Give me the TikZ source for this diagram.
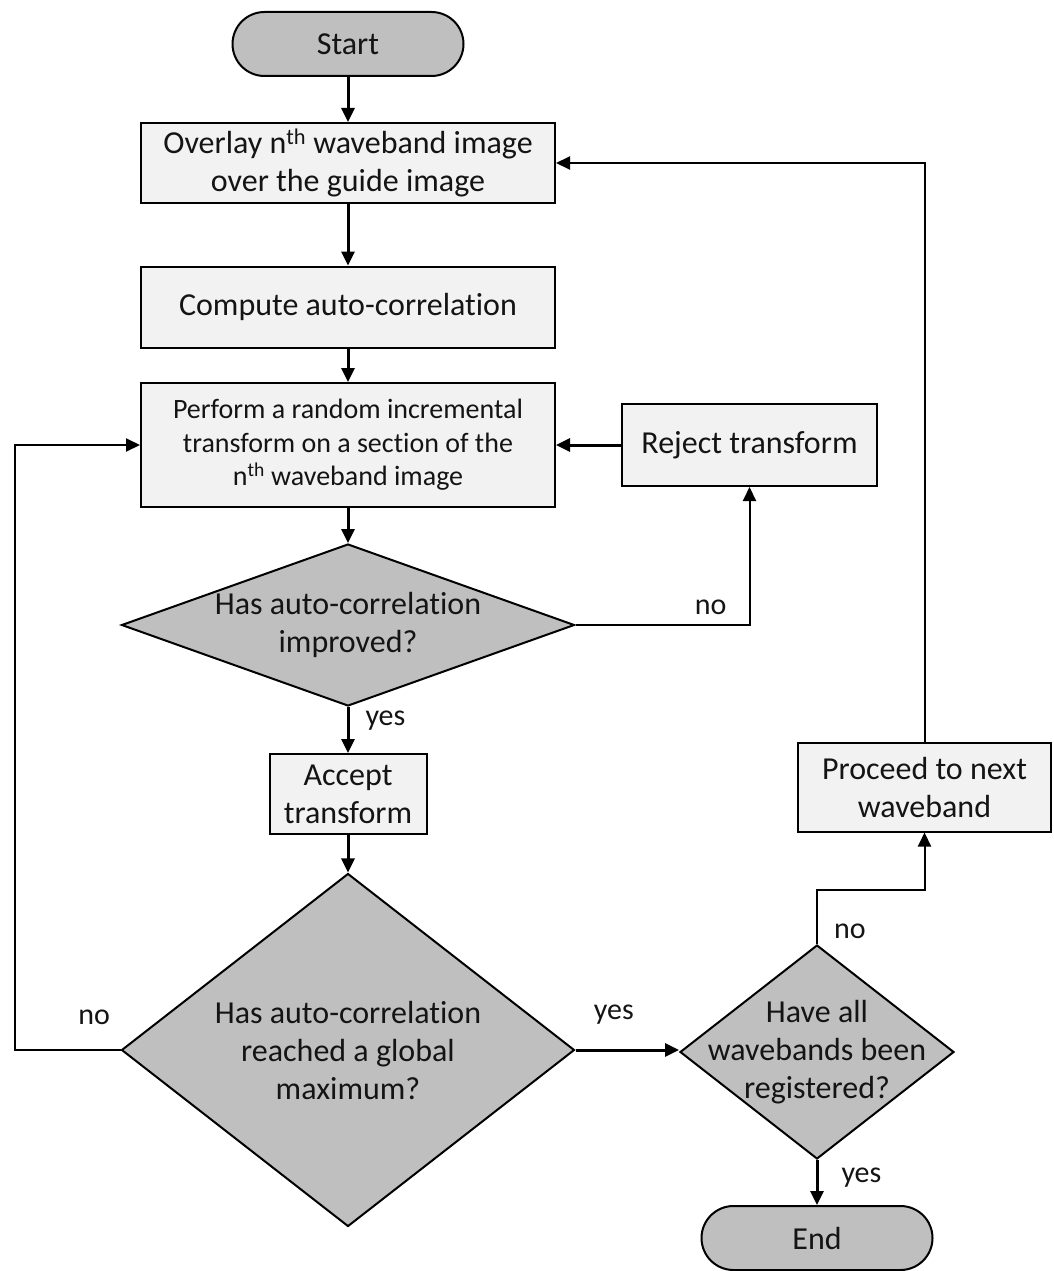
\documentclass[tikz,border=0pt]{standalone}
\usepackage{fontspec}
\setmainfont{Carlito}[Ligatures={NoCommon}]
\usetikzlibrary{arrows.meta,shapes.geometric,shapes.misc}
\definecolor{lightfill}{HTML}{F2F2F2}
\definecolor{darkfill}{HTML}{BFBFBF}
\definecolor{txt}{HTML}{141414}
\tikzset{
  base/.style={draw=black, line width=2pt, text=txt, align=center, font=\fontsize{32pt}{38pt}\selectfont},
  procbox/.style={base, rectangle, fill=lightfill, inner sep=0pt},
  pill/.style={base, rounded rectangle, fill=darkfill, minimum width=231pt, minimum height=64pt, inner sep=0pt},
  decision/.style={base, diamond, fill=darkfill, inner sep=-25pt},
  conn/.style={draw=black, line width=2pt, -{Triangle[length=14pt,width=13pt]}},
  thickconn/.style={conn, line width=3pt},
  lbl/.style={text=txt, font=\fontsize{30pt}{36pt}\selectfont, inner sep=0pt}
}
\begin{document}
\begin{tikzpicture}[x=1pt,y=-1pt]
\useasboundingbox (0,0) rectangle (1053,1271);
% nodes
\node[pill] (start) at (348,44) {Start};
\node[procbox, minimum width=414pt, minimum height=80pt] (overlay) at (348,163)
  {Overlay n\textsuperscript{th} waveband image\\over the guide image};
\node[procbox, minimum width=414pt, minimum height=81pt] (compute) at (348,307)
  {Compute auto-correlation};
\node[procbox, minimum width=414pt, minimum height=124pt,
      font=\fontsize{28pt}{33.5pt}\selectfont] (perform) at (348,445)
  {Perform a random incremental\\transform on a section of the\\n\textsuperscript{th} waveband image};
\node[procbox, minimum width=255pt, minimum height=82pt] (reject) at (749.5,445)
  {Reject transform};
\node[decision, aspect=2.8, minimum width=453pt, minimum height=162pt] (d1) at (348,625)
  {Has auto-correlation\\improved?};
\node[procbox, minimum width=157pt, minimum height=80pt] (accept) at (348,794)
  {Accept\\transform};
\node[decision, aspect=1.28, minimum width=453pt, minimum height=353pt] (d2) at (348,1050)
  {Has auto-correlation\\reached a global\\maximum?};
\node[decision, aspect=1.28, minimum width=274pt, minimum height=214pt] (d3) at (817,1052)
  {Have all\\wavebands been\\registered?};
\node[procbox, minimum width=253pt, minimum height=89pt] (proceed) at (924.5,787)
  {Proceed to next\\waveband};
\node[pill] (end) at (817,1238) {End};
\coordinate (loopL) at (15,1050);
\coordinate (j3) at (817,890);
% connectors
\draw[thickconn] (start) -- (overlay);
\draw[thickconn] (overlay) -- (compute);
\draw[thickconn] (compute) -- (perform);
\draw[thickconn] (perform) -- (d1);
\draw[conn] (d1.east) -| node[lbl, pos=0.5, anchor=south east, xshift=-22pt, yshift=9pt] (nolbl1) {no} (reject.south);
\draw[thickconn] (reject) -- (perform);
\draw[thickconn] (d1) -- node[lbl, pos=0.3, anchor=west, xshift=16pt] (yeslbl1) {yes} (accept);
\draw[thickconn] (accept) -- (d2);
\draw[conn] (d2.west) -- node[lbl, pos=0.25, anchor=south, yshift=24pt] (nolbl2) {no} (loopL) |- (perform.west);
\draw[thickconn] (d2.east) -- node[lbl, pos=0.37, anchor=south, yshift=24pt] (yeslbl2) {yes} (d2.east -| d3.west);
\draw[conn] (d3.north) -- node[lbl, pos=0.24, anchor=west, xshift=16pt] (nolbl3) {no} (j3) -| (proceed.south);
\draw[conn] (proceed.north) |- (overlay.east);
\draw[thickconn] (d3.south) -- node[lbl, pos=0.4, anchor=west, xshift=23pt] (yeslbl3) {yes} (end);
\end{tikzpicture}
\end{document}
